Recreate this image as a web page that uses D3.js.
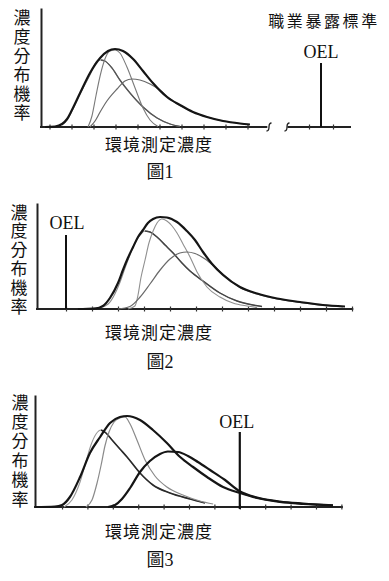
<!DOCTYPE html>
<html>
<head>
<meta charset="utf-8">
<script src="https://cdn.jsdelivr.net/npm/d3@7"></script>
<style>
  body { margin: 0; background: #fff; }
  text { font-family: "Liberation Serif", "Noto Sans CJK TC", serif; fill: #111; }
</style>
</head>
<body>
<div id="chart"></div>
<script>
"use strict"

// labels
const yLabelChars = ["濃", "度", "分", "布", "機", "率"]
const xLabelText = "環境測定濃度"
const captions = ["圖1", "圖2", "圖3"]
const oelText = "OEL"
const oelTitle = "職業暴露標準"

// tick positions (concentration steps)
const fig1Ticks = [1, 2, 3, 4, 5, 6, 7, 8, 9, 10]
const fig1BreakTicks = [1, 2]
const fig2Ticks = [1, 2, 3, 4, 5, 6, 7, 8, 9, 10, 11, 12]
const fig3Ticks = [1, 2, 3, 4, 5, 6, 7, 8, 9, 10, 11, 12]

// OEL value and marker height for each figure
const fig1Oel = 1.5, fig1OelTop = 64
const fig2Oel = 1, fig2OelTop = 74
const fig3Oel = 8, fig3OelTop = 75

// figure 1 curves  [concentration, probability]
const fig1Envelope = [[0.8,0],[1.25,0.5],[1.57,3],[1.8,8],[2.02,17],[2.39,34],[2.84,54],[3.3,69],[3.66,76],[3.98,78],[4.34,76],[4.8,68],[5.25,56],[5.7,44],[6.34,30],[6.93,22],[7.52,15],[8.16,10],[8.89,6],[9.66,3.5],[10.11,2.5]]
const fig1Left = [[1.57,2],[1.8,7],[2.02,16],[2.39,33],[2.84,52],[3.16,66],[3.34,67],[3.52,66],[3.84,59],[4.2,47],[4.66,34],[5.25,20],[5.89,9],[6.48,3],[6.93,0.5]]
const fig1Mid = [[2.75,0],[2.93,11],[3.11,31],[3.3,51],[3.52,68],[3.75,76],[3.98,77],[4.2,74],[4.52,60],[4.89,39],[5.25,19],[5.57,7],[5.93,0.5]]
const fig1Right = [[2.84,0],[3.07,6],[3.3,15],[3.61,26],[4.07,38],[4.43,46],[4.75,48],[5.11,47],[5.57,43],[6.02,37],[6.48,28],[6.93,21.5],[7.52,15],[8.16,10],[8.89,6],[9.66,3.5],[10.11,2.5]]

// figure 2 curves
const fig2Envelope = [[1.46,0],[2.12,0.5],[2.42,3],[2.69,11],[3.0,26],[3.19,39],[3.38,51],[3.58,62],[3.77,72],[3.96,79],[4.15,86],[4.35,90],[4.62,92],[4.88,91.5],[5.27,87],[5.65,78],[5.96,69],[6.27,57],[6.62,45],[7.04,34],[7.69,22],[8.35,15.5],[9.12,10.5],[10.0,7],[10.88,4],[11.73,2.5]]
const fig2Left = [[1.62,0.5],[2.31,1.5],[2.62,5],[2.88,15],[3.08,27],[3.27,41],[3.46,54],[3.65,66],[3.85,74],[4.04,78],[4.23,77],[4.5,72],[4.81,64],[5.12,56],[5.46,46],[5.77,38],[6.27,28],[6.92,16],[7.58,8],[8.19,4],[8.54,2.5]]
const fig2Mid = [[3.38,0],[3.65,3],[3.77,14],[3.88,31],[4.04,49],[4.19,66],[4.35,78],[4.5,86],[4.69,90],[4.88,88],[5.08,83],[5.27,76],[5.5,65],[5.77,52],[6.04,37],[6.42,22],[6.92,12],[7.42,6],[7.96,3],[8.35,1.5]]
const fig2Right = [[3.0,0],[3.46,2.5],[3.85,12],[4.23,25],[4.62,39],[5.0,50],[5.38,56],[5.65,57],[5.96,55.5],[6.35,50],[6.73,42],[7.12,33],[7.69,21.5],[8.35,15],[9.12,10],[10.0,6.5],[10.88,3.5],[11.65,2]]

// figure 3 curves
const fig3Envelope = [[-0.06,0],[0.72,0.5],[1.0,2],[1.31,10],[1.71,30],[2.1,54],[2.5,70],[2.89,84],[3.28,90],[3.56,91],[4.07,87],[4.58,77],[5.13,64],[5.65,50],[6.16,40],[6.71,30],[7.34,20],[8.01,14],[8.68,9],[9.58,5],[10.49,3],[11.67,1.5]]
const fig3Left = [[1.08,0],[1.39,7],[1.71,25],[1.94,45],[2.14,62],[2.34,73],[2.54,77],[2.73,74],[2.97,67],[3.28,58],[3.56,50],[4.07,34],[4.58,22],[5.25,14],[6.04,8],[6.63,4]]
const fig3Mid = [[1.94,0],[2.18,7],[2.38,24],[2.54,42],[2.69,61],[2.85,75],[3.05,85],[3.28,89],[3.48,90],[3.68,83],[3.95,67],[4.27,47],[4.66,31],[5.13,20],[5.76,12],[6.43,6],[6.95,3]]
const fig3Right = [[2.81,0],[3.09,2],[3.36,8],[3.68,19],[4.07,35],[4.46,46],[4.86,53],[5.17,55.5],[5.57,55],[5.96,51],[6.35,45],[6.83,37],[7.42,27],[8.01,15.5],[8.68,9.5],[9.58,5.5],[10.49,3.5],[11.67,1.7]]

const svg = d3.select("#chart")
  .append("svg")
  .attr("width", 389)
  .attr("height", 581)
  .style("background", "#fff")

// draws one figure: axes, curves, labels
function drawPanel(p) {
  const x = d3.scaleLinear().domain(p.xDomain).range(p.xRange)
  const y = d3.scaleLinear().domain([0, p.axisY - p.yTop]).range([p.axisY, p.yTop])
  const g = svg.append("g")

  const line = d3.line()
    .x(d => x(d[0]))
    .y(d => y(d[1]))
    .curve(d3.curveMonotoneX)

  // y axis
  g.append("g")
    .attr("transform", "translate(" + p.axisX + ",0)")
    .call(d3.axisLeft(y).tickValues([]).tickSizeOuter(0))
    .select(".domain").attr("stroke", "#222").attr("stroke-width", 2)

  // x axis line + ticks
  g.append("line")
    .attr("x1", p.axisX - 1).attr("x2", x(p.axisEnd))
    .attr("y1", p.axisY).attr("y2", p.axisY)
    .attr("stroke", "#222").attr("stroke-width", 2)
  g.append("g")
    .attr("transform", "translate(0," + (p.axisY - 2.5) + ")")
    .call(d3.axisBottom(x).tickValues(p.ticks).tickSize(5).tickFormat("").tickSizeOuter(0))
    .call(a => a.select(".domain").remove())
    .selectAll("line").attr("stroke", "#333").attr("stroke-width", 1.2)

  // component distributions
  p.parts.forEach(c => {
    g.append("path")
      .datum(c.data)
      .attr("d", line)
      .attr("fill", "none")
      .attr("stroke", c.color)
      .attr("stroke-width", c.width)
    if (c.fallColor) {
      const peak = d3.greatest(c.data, d => d[1])
      g.append("path")
        .datum(c.data.filter(d => d[0] >= peak[0]))
        .attr("d", line)
        .attr("fill", "none")
        .attr("stroke", c.fallColor)
        .attr("stroke-width", c.fallWidth)
    }
  })

  // overall distribution
  g.append("path")
    .datum(p.envelope)
    .attr("d", line)
    .attr("fill", "none")
    .attr("stroke", "#151515")
    .attr("stroke-width", 2.2)
    .attr("stroke-linejoin", "round")

  // y label
  g.selectAll(".ylab")
    .data(yLabelChars)
    .enter()
    .append("text")
    .attr("x", p.yLabX)
    .attr("y", (d, i) => p.yLabY + i * p.yLabStep)
    .attr("text-anchor", "middle")
    .attr("dominant-baseline", "central")
    .style("font-size", "17px")
    .text(d => d)

  g.append("text")
    .attr("x", 159).attr("y", p.xLabY)
    .attr("text-anchor", "middle")
    .attr("dominant-baseline", "central")
    .style("font-size", "17px")
    .style("letter-spacing", "1px")
    .text(xLabelText)

  g.append("text")
    .attr("x", 160).attr("y", p.capY)
    .attr("text-anchor", "middle")
    .attr("dominant-baseline", "central")
    .style("font-size", "18px")
    .text(p.caption)

  return { g, x, y }
}

// Figure 1
const f1 = drawPanel({
  xDomain: [0, 11], xRange: [27.5, 269.5], axisX: 41, axisEnd: 10.9,
  axisY: 127, yTop: 8, ticks: fig1Ticks,
  envelope: fig1Envelope,
  parts: [
    { data: fig1Left, color: "#8a8a8a", width: 1.1, fallColor: "#555", fallWidth: 1.3 },
    { data: fig1Mid, color: "#7a7a7a", width: 1.1 },
    { data: fig1Right, color: "#6a6a6a", width: 1.2 }
  ],
  yLabX: 22, yLabY: 18, yLabStep: 19, xLabY: 145, capY: 172, caption: captions[0]
})

// broken axis part with OEL
const xb = d3.scaleLinear().domain([0, 2.75]).range([285, 351])
f1.g.append("line")
  .attr("x1", xb(0.1)).attr("x2", xb(2.75))
  .attr("y1", 127).attr("y2", 127)
  .attr("stroke", "#222").attr("stroke-width", 2)
f1.g.append("g")
  .attr("transform", "translate(0,124.5)")
  .call(d3.axisBottom(xb).tickValues(fig1BreakTicks).tickSize(5).tickFormat("").tickSizeOuter(0))
  .call(a => a.select(".domain").remove())
  .selectAll("line").attr("stroke", "#333").attr("stroke-width", 1.2)
;[269, 287].forEach(bx => {
  f1.g.append("path")
    .attr("d", "M" + (bx - 2.5) + ",131 Q" + bx + ",131 " + bx + ",127 Q" + bx + ",123 " + (bx + 2.5) + ",123")
    .attr("fill", "none").attr("stroke", "#222").attr("stroke-width", 1.3)
})
f1.g.append("line")
  .attr("x1", xb(fig1Oel)).attr("x2", xb(fig1Oel))
  .attr("y1", f1.y(fig1OelTop)).attr("y2", f1.y(0))
  .attr("stroke", "#111").attr("stroke-width", 2)
f1.g.append("text")
  .attr("x", xb(fig1Oel)).attr("y", 52)
  .attr("text-anchor", "middle").attr("dominant-baseline", "central")
  .style("font-size", "18px").text(oelText)
f1.g.append("text")
  .attr("x", 324).attr("y", 21)
  .attr("text-anchor", "middle").attr("dominant-baseline", "central")
  .style("font-size", "16px").style("letter-spacing", "2.6px")
  .text(oelTitle)

// Figure 2
const f2 = drawPanel({
  xDomain: [-0.1, 12], xRange: [37.4, 352], axisX: 37, axisEnd: 12.05,
  axisY: 309, yTop: 203, ticks: fig2Ticks,
  envelope: fig2Envelope,
  parts: [
    { data: fig2Left, color: "#8a8a8a", width: 1.1, fallColor: "#444", fallWidth: 1.4 },
    { data: fig2Mid, color: "#909090", width: 1.1 },
    { data: fig2Right, color: "#6a6a6a", width: 1.2 }
  ],
  yLabX: 19, yLabY: 213, yLabStep: 18.8, xLabY: 333, capY: 362, caption: captions[1]
})
f2.g.append("line")
  .attr("x1", f2.x(fig2Oel)).attr("x2", f2.x(fig2Oel))
  .attr("y1", f2.y(fig2OelTop)).attr("y2", f2.y(0))
  .attr("stroke", "#111").attr("stroke-width", 2)
f2.g.append("text")
  .attr("x", f2.x(fig2Oel) + 1).attr("y", 223)
  .attr("text-anchor", "middle").attr("dominant-baseline", "central")
  .style("font-size", "18px").text(oelText)

// Figure 3
const f3 = drawPanel({
  xDomain: [-0.06, 12.06], xRange: [35.1, 342.9], axisX: 35, axisEnd: 12.06,
  axisY: 507, yTop: 395, ticks: fig3Ticks,
  envelope: fig3Envelope,
  parts: [
    { data: fig3Left, color: "#999", width: 1.1, fallColor: "#2a2a2a", fallWidth: 1.6 },
    { data: fig3Mid, color: "#8a8a8a", width: 1.2 },
    { data: fig3Right, color: "#151515", width: 2.2 }
  ],
  yLabX: 20, yLabY: 403, yLabStep: 19.4, xLabY: 532, capY: 560, caption: captions[2]
})
f3.g.append("line")
  .attr("x1", f3.x(fig3Oel)).attr("x2", f3.x(fig3Oel))
  .attr("y1", f3.y(fig3OelTop)).attr("y2", f3.y(0) + 2)
  .attr("stroke", "#111").attr("stroke-width", 2.2)
f3.g.append("text")
  .attr("x", f3.x(fig3Oel) - 3).attr("y", 422)
  .attr("text-anchor", "middle").attr("dominant-baseline", "central")
  .style("font-size", "18px").text(oelText)
</script>
</body>
</html>
